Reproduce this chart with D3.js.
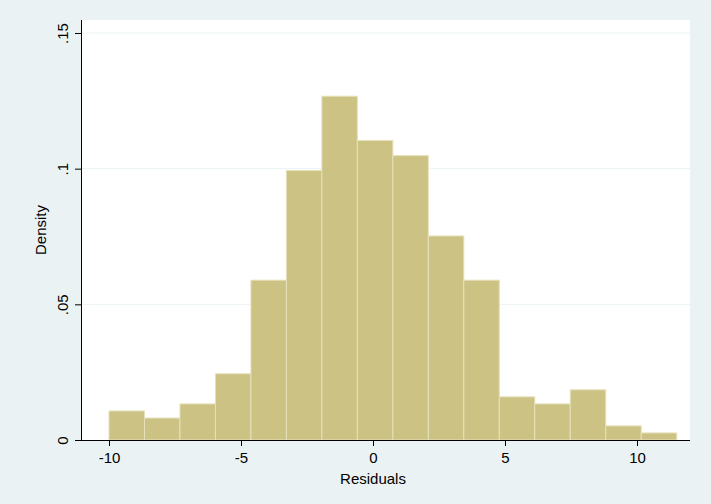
<!DOCTYPE html>
<html><head><meta charset="utf-8">
<script src="https://cdn.jsdelivr.net/npm/d3@7"></script>
<style>body{margin:0;background:#eaf2f3;} svg{display:block;font-family:"Liberation Sans",Arial,sans-serif;}</style>
</head><body><svg width="711" height="504"></svg>
<script>
const binStart = -10, binWidth = 1.344;
const density = [0.0107, 0.0081, 0.0133, 0.0244, 0.0589, 0.0993, 0.1267, 0.1104,
  0.1048, 0.0752, 0.0589, 0.0159, 0.0133, 0.0185, 0.0052, 0.0026];
const xTicks = [-10, -5, 0, 5, 10];
const yTicks = [0, 0.05, 0.1, 0.15];
const yLabels = ["0", ".05", ".1", ".15"];

const svg = d3.select("svg");
const W = 711, H = 504;
const pl = 81, pr = 690, pt = 20, pb = 440;

const x = d3.scaleLinear().domain([-10, 10]).range([109, 637]);
const y = d3.scaleLinear().domain([0, 0.15]).range([440, 33]);

svg.append("rect").attr("width", W).attr("height", H).attr("fill", "#eaf2f3");
svg.append("rect").attr("x", pl).attr("y", pt).attr("width", pr - pl).attr("height", pb - pt).attr("fill", "#fff");

svg.append("g").selectAll("line").data(yTicks.slice(1)).enter().append("line")
  .attr("x1", pl).attr("x2", pr).attr("y1", d => y(d)).attr("y2", d => y(d))
  .attr("stroke", "#eaf2f3").attr("stroke-width", 1);

svg.append("g").selectAll("rect").data(density).enter().append("rect")
  .attr("x", (d, i) => x(binStart + i * binWidth))
  .attr("width", x(binWidth) - x(0))
  .attr("y", d => y(d))
  .attr("height", d => y(0) - y(d))
  .attr("fill", "#cbc283").attr("stroke", "#e6e1bb").attr("stroke-width", 1);

const xa = svg.append("g").attr("transform", `translate(0,${pb})`)
  .call(d3.axisBottom(x).tickValues(xTicks).tickSize(6).tickPadding(6).tickFormat(d => String(d)));
xa.select(".domain").attr("d", `M${pl},0.5H${pr}`).attr("stroke", "#000");
xa.selectAll("text").attr("font-size", 15).attr("fill", "#000");

const ya = svg.append("g").attr("transform", `translate(${pl},0)`)
  .call(d3.axisLeft(y).tickValues(yTicks).tickSize(6).tickFormat((d, i) => yLabels[i]));
ya.select(".domain").attr("d", `M0.5,${pt}V${pb}`).attr("stroke", "#000");
ya.selectAll(".tick text").attr("font-size", 15).attr("fill", "#000")
  .attr("text-anchor", "middle").attr("x", 0).attr("y", 0).attr("dy", 0)
  .attr("transform", "translate(-13,0) rotate(-90)");

svg.append("text").attr("x", x(0)).attr("y", 484).attr("text-anchor", "middle")
  .attr("font-size", 15).text("Residuals");
svg.append("text").attr("transform", `translate(46,230) rotate(-90)`).attr("text-anchor", "middle")
  .attr("font-size", 15).text("Density");
</script></body></html>
